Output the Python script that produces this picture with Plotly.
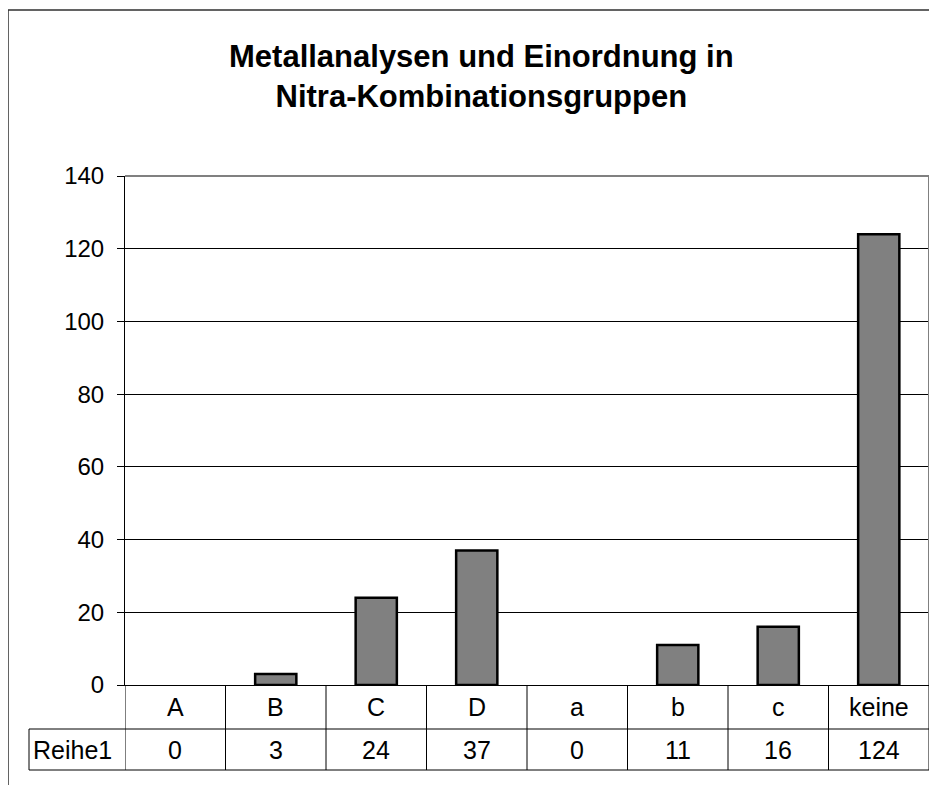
import plotly.graph_objects as go

# Kategorien und Werte (Reihe1)
categories = ['A', 'B', 'C', 'D', 'a', 'b', 'c', 'keine']
values = [0, 3, 24, 37, 0, 11, 16, 124]
series_name = 'Reihe1'
y_ticks = [0, 20, 40, 60, 80, 100, 120, 140]

title_text = 'Metallanalysen und Einordnung in<br>Nitra-Kombinationsgruppen'

W, H = 937, 785
OFF = 8  # page body margin
L, R, T, B = 125 - OFF, 937 - (929 - OFF), 176 - OFF, 785 - (685 - OFF)
plot_h = H - T - B
plot_w = W - L - R


def py(px):
    # screen pixel row -> paper y
    return (H - B - (px - OFF)) / plot_h


def pxx(px):
    # screen pixel column -> paper x
    return (px - OFF - L) / plot_w


font = 'Liberation Sans, Arial, sans-serif'

fig = go.Figure()
fig.add_trace(go.Bar(
    x=categories,
    y=[v if v else None for v in values],
    name=series_name,
    width=0.41,
    marker=dict(color='#808080', line=dict(color='black', width=2.5)),
))

shapes = []
# top + right border of the plot area (grey)
shapes.append(dict(type='line', xref='paper', yref='paper', x0=0, x1=1, y0=1, y1=1,
                   line=dict(color='#808080', width=2)))
shapes.append(dict(type='line', xref='paper', yref='paper', x0=1, x1=1, y0=0, y1=1,
                   line=dict(color='#808080', width=2)))

# data table under the chart
row1, row2 = py(729), py(770)
n = len(categories)
for i in range(n + 1):
    shapes.append(dict(type='line', xref='x', yref='paper', x0=i - 0.5, x1=i - 0.5,
                       y0=0, y1=row2, line=dict(color='black', width=1)))
for yy in (row1, row2):
    shapes.append(dict(type='line', xref='paper', yref='paper', x0=pxx(29), x1=1,
                       y0=yy, y1=yy, line=dict(color='black', width=1)))
shapes.append(dict(type='line', xref='paper', yref='paper', x0=pxx(29), x1=pxx(29),
                   y0=row1, y1=row2, line=dict(color='black', width=1)))

# outer chart border
shapes.append(dict(type='rect', xref='paper', yref='paper', x0=pxx(8), x1=1.2,
                   y0=-0.5, y1=py(10), line=dict(color='#303030', width=1.5)))

tfont = dict(family=font, size=25, color='black')
annotations = []
for cat, val in zip(categories, values):
    annotations.append(dict(x=cat, xref='x', y=py(707), yref='paper', text=cat,
                            xanchor='center', yanchor='middle', showarrow=False, font=tfont))
    annotations.append(dict(x=cat, xref='x', y=py(750), yref='paper', text=str(val),
                            xanchor='center', yanchor='middle', showarrow=False, font=tfont))
annotations.append(dict(x=pxx(31), xref='paper', y=py(750), yref='paper', text=series_name,
                        xanchor='left', yanchor='middle', showarrow=False, font=tfont))
annotations.append(dict(x=pxx(481), xref='paper', y=py(77), yref='paper',
                        text='<b>' + title_text.replace('<br>', '</b><br><b>') + '</b>',
                        xanchor='center', yanchor='middle', showarrow=False,
                        font=dict(family=font, size=31, color='black')))

fig.update_layout(
    width=W, height=H,
    margin=dict(l=L, r=R, t=T, b=B, pad=0),
    paper_bgcolor='white', plot_bgcolor='white',
    showlegend=False,
    shapes=shapes,
    annotations=annotations,
    xaxis=dict(showticklabels=False, ticks='', showgrid=False, showline=True,
               linecolor='black', linewidth=1, range=[-0.5, n - 0.5], fixedrange=True),
    yaxis=dict(range=[0, 140], tickvals=y_ticks, ticks='outside', ticklen=7,
               tickcolor='black', showline=True, linecolor='black', linewidth=1,
               showgrid=True, gridcolor='black', gridwidth=1, zeroline=False,
               ticklabelstandoff=8,
               tickfont=dict(family=font, size=24, color='black')),
)

fig.write_html('out.html')
